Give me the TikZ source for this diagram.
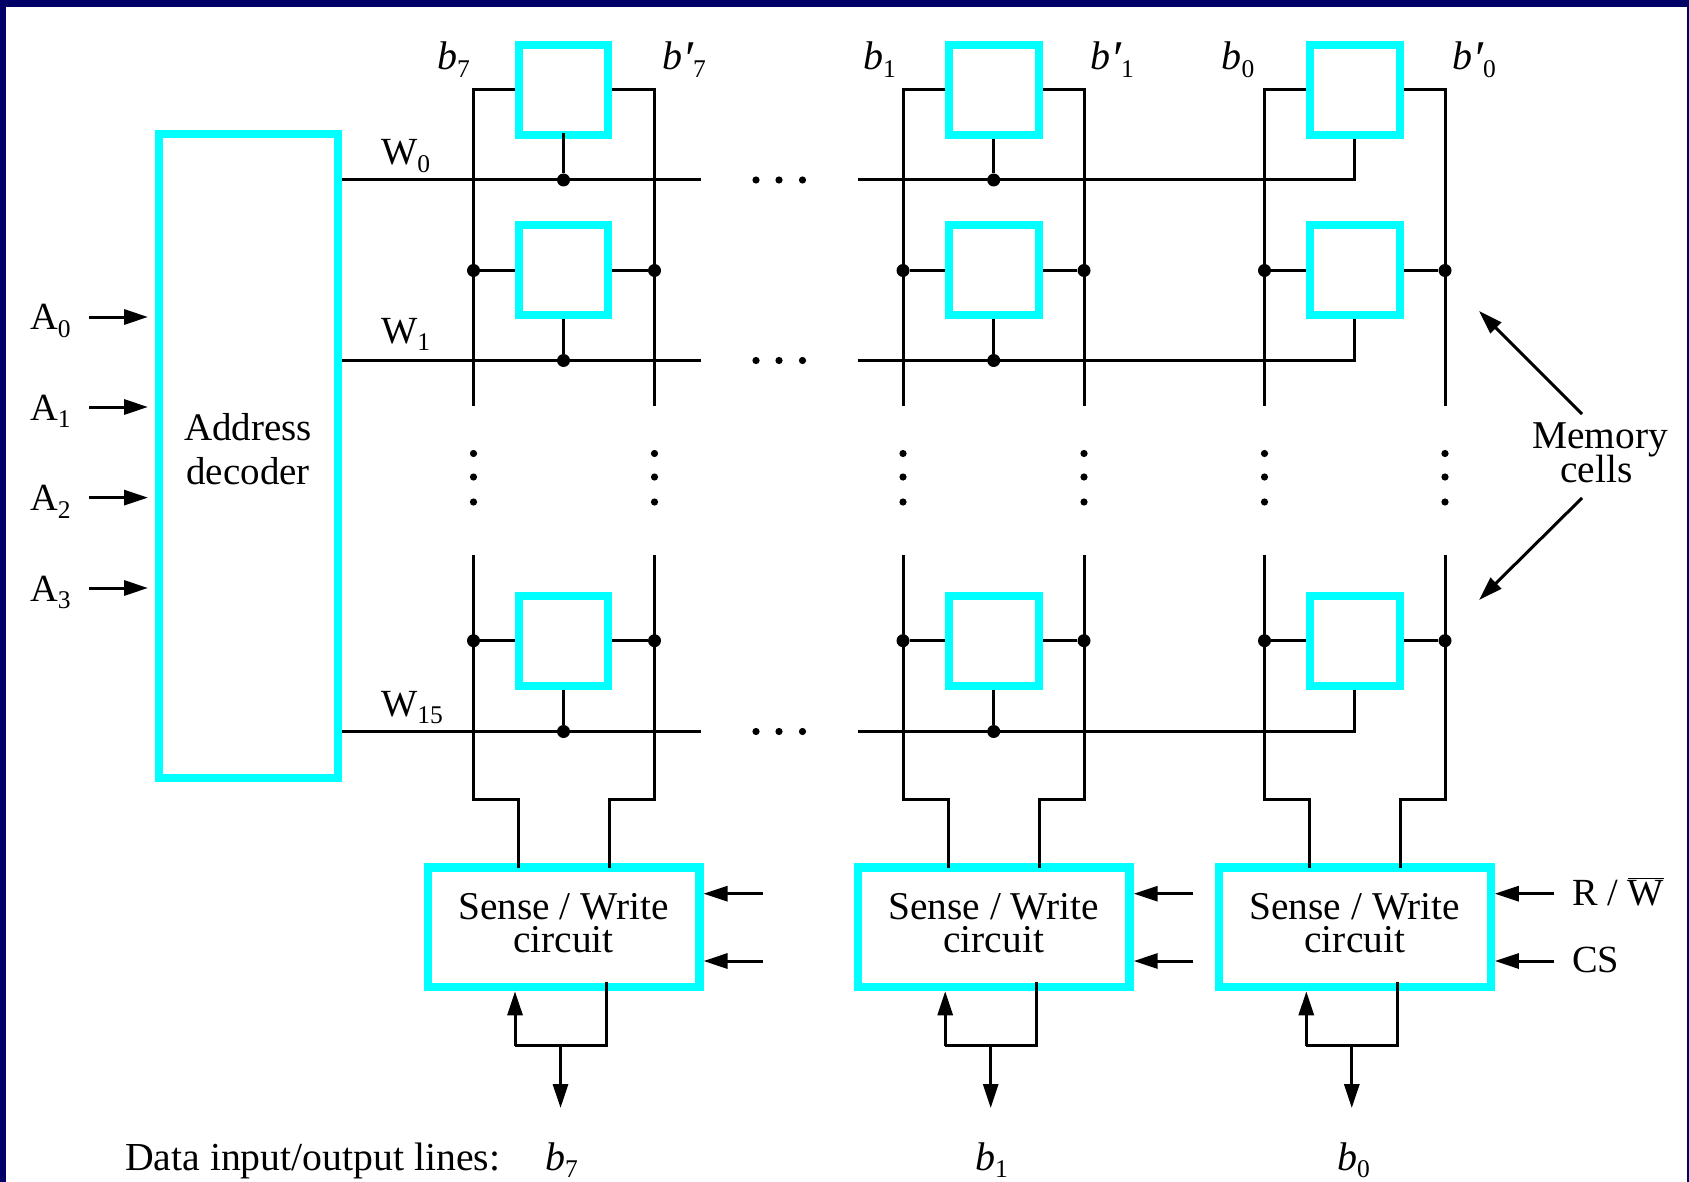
\documentclass[tikz,border=0pt]{standalone}
\usepackage{fontspec}
\setmainfont{Liberation Serif}
\usetikzlibrary{arrows.meta,calc}
\definecolor{framenavy}{RGB}{0,0,102}
\definecolor{boxcyan}{RGB}{0,255,255}
\newcommand{\sbs}[1]{\raisebox{-7.5pt}{\fontsize{25.5}{26}\selectfont #1}}
\newcommand{\bprime}{\raisebox{-6pt}{\fontsize{50}{50}\selectfont ′}}
\tikzset{
  boxbase/.style={draw=boxcyan,rectangle,inner sep=0pt,fill=white},
  cell/.style={boxbase,line width=8pt,minimum width=89.7pt,minimum height=90.2pt},
  sensebox/.style={boxbase,line width=8.3pt,minimum width=271.7pt,minimum height=119.7pt},
  decoder/.style={boxbase,line width=8.5pt,minimum width=178.9pt,minimum height=643.5pt},
  wire/.style={draw=black,line width=3pt,line cap=butt,line join=miter},
  arrowed/.style={wire,-{Triangle[length=24pt,width=15pt]}},
  junction/.style={circle,fill=black,inner sep=0pt,minimum size=13pt},
  lbl/.style={inner sep=0pt,anchor=base west,font=\fontsize{38.4}{40}\selectfont},
  ilbl/.style={inner sep=0pt,anchor=base west,font=\fontsize{40}{40}\selectfont\itshape},
  ctext/.style={inner sep=0pt,align=center,font=\fontsize{39.4}{33.5}\selectfont},
  dtext/.style={inner sep=0pt,align=center,font=\fontsize{39}{43.5}\selectfont}
}
\begin{document}
\begin{tikzpicture}[x=1pt,y=-1pt]
\useasboundingbox (0,0) rectangle (1689,1182);
\fill[framenavy] (0,0) rectangle (1689,1182);
\fill[white] (6,7) rectangle (1687,1182);

% address decoder
\node[decoder] (dec) at (248.3,456) {};
\node[dtext] (dect) at (248.2,449) {Address\\decoder};

% word line end points
\foreach \r/\yw in {a/180,b/360.5,c/731.5}{
  \coordinate (w\r e) at (701,\yw);
  \coordinate (w\r s) at (857.5,\yw);
  \draw[wire] (dec.east |- w\r e) -- (w\r e);
  \foreach \xd in {756,779,802.5}{\fill (\xd,\yw) circle (3.6);}
}

% columns
\foreach \col/\xc/\xl/\xr in {7/563.5/473.5/654.5,1/993.7/903/1084,0/1354.8/1264.5/1445}{
  \node[cell] (c\col a) at (\xc,90) {};
  \node[cell] (c\col b) at (\xc,270.2) {};
  \node[cell] (c\col c) at (\xc,641) {};
  \node[sensebox] (s\col) at (\xc,927.3) {};
  \node[ctext] (st\col) at (\xc,923) {Sense / Write\\circuit};
  % bit lines
  \coordinate (bl\col e) at (\xl,406);
  \coordinate (br\col e) at (\xr,406);
  \coordinate (bl\col s) at (\xl,555);
  \coordinate (br\col s) at (\xr,555);
  \coordinate (jl\col) at (\xc-45.5,799.5);
  \coordinate (jr\col) at (\xc+45.5,799.5);
  \coordinate (sl\col) at (\xc-45.5,868);
  \coordinate (sr\col) at (\xc+45.5,868);
  \draw[wire] (c\col a.west) -| (bl\col e);
  \draw[wire] (c\col a.east) -| (br\col e);
  \draw[wire] (bl\col s) |- (jl\col) -- (sl\col);
  \draw[wire] (br\col s) |- (jr\col) -- (sr\col);
  % junctions on rows b and c
  \foreach \r/\yc in {b/270.5,c/640.7}{
    \node[junction] (jl\col\r) at (\xl,\yc) {};
    \node[junction] (jr\col\r) at (\xr,\yc) {};
    \draw[wire] (jl\col\r) -- (jl\col\r -| c\col\r.west);
    \draw[wire] (jr\col\r) -- (jr\col\r -| c\col\r.east);
  }
  % vertical ellipsis
  \foreach \yd in {453.5,477,502}{
    \fill (\xl,\yd) circle (3.6);
    \fill (\xr,\yd) circle (3.6);
  }
  % read / write controls
  \coordinate (rw\col) at (\xc+199.5,893.7);
  \coordinate (cs\col) at (\xc+199.5,961);
  \draw[arrowed] (rw\col) -- (rw\col -| s\col.east);
  \draw[arrowed] (cs\col) -- (cs\col -| s\col.east);
  % data lines
  \coordinate (dl\col) at (\xc-48.5,1045.7);
  \coordinate (dr\col) at (\xc+42.5,1045.7);
  \coordinate (dt\col) at (\xc+42.5,981.7);
  \coordinate (dm\col) at (\xc-3,1045.7);
  \coordinate (dd\col) at (\xc-3,1108);
  \coordinate (du\col) at (\xc-48.5,991.3);
  \draw[wire] (dt\col) -- (dr\col) -- (dl\col);
  \draw[arrowed] (dl\col) -- (du\col);
  \draw[arrowed] (dm\col) -- (dd\col);
}

% word lines through columns 7 and 1, with their cells
\foreach \r in {a,b,c}{
  \node[junction] (j7\r) at (c7\r.south |- w\r e) {};
  \node[junction] (j1\r) at (c1\r.south |- w\r e) {};
  \draw[wire] (w\r s) -| (c0\r.south);
  \draw[wire] (c1\r.south) -- (j1\r);
}
\draw[wire] ([yshift=6pt]c7a.south) -- (j7a);
\draw[wire] (c7b.south) -- (j7b);
\draw[wire] (c7c.south) -- (j7c);

% address inputs
\foreach \i/\ya in {0/317,1/407,2/497.6,3/588}{
  \node[lbl] (A\i) at (30,\ya+13) {A\sbs{\i}};
  \coordinate (at\i) at (89,\ya);
  \coordinate (ah\i) at (148,\ya);
  \draw[arrowed] (at\i) -- (ah\i);
}

% word labels
\node[lbl] (W0) at (381,165) {W\sbs{0}};
\node[lbl] (W1) at (381,343) {W\sbs{1}};
\node[lbl] (W15) at (381,716) {W\sbs{15}};

% bit labels
\node[ilbl] (b7) at (437,70) {b\sbs{\upshape 7}};
\node[ilbl] (bp7) at (662,70) {b\bprime\sbs{\upshape 7}};
\node[ilbl] (b1) at (863,70) {b\sbs{\upshape 1}};
\node[ilbl] (bp1) at (1090,70) {b\bprime\sbs{\upshape 1}};
\node[ilbl] (b0) at (1221.5,70) {b\sbs{\upshape 0}};
\node[ilbl] (bp0) at (1452,70) {b\bprime\sbs{\upshape 0}};

% memory cells
\node[ctext] (mem) at (1600,453) {Memory\\[-3pt]cells\rule{7pt}{0pt}};
\coordinate (mt) at (1582,414);
\coordinate (mb) at (1582,498);
\coordinate (mtt) at (1479,311);
\coordinate (mbt) at (1479,600);
\draw[arrowed] (mt) -- (mtt);
\draw[arrowed] (mb) -- (mbt);

% control labels
\node[lbl] (rwl) at (1572,905) {R / $\overline{\hbox{W}}$};
\node[lbl] (csl) at (1572,972) {CS};

% bottom line
\node[lbl,font=\fontsize{39.7}{40}\selectfont] (dio) at (125,1170) {Data input/output lines:};
\node[ilbl] (o7) at (545,1170) {b\sbs{\upshape 7}};
\node[ilbl] (o1) at (975,1170) {b\sbs{\upshape 1}};
\node[ilbl] (o0) at (1337,1170) {b\sbs{\upshape 0}};
\end{tikzpicture}
\end{document}
